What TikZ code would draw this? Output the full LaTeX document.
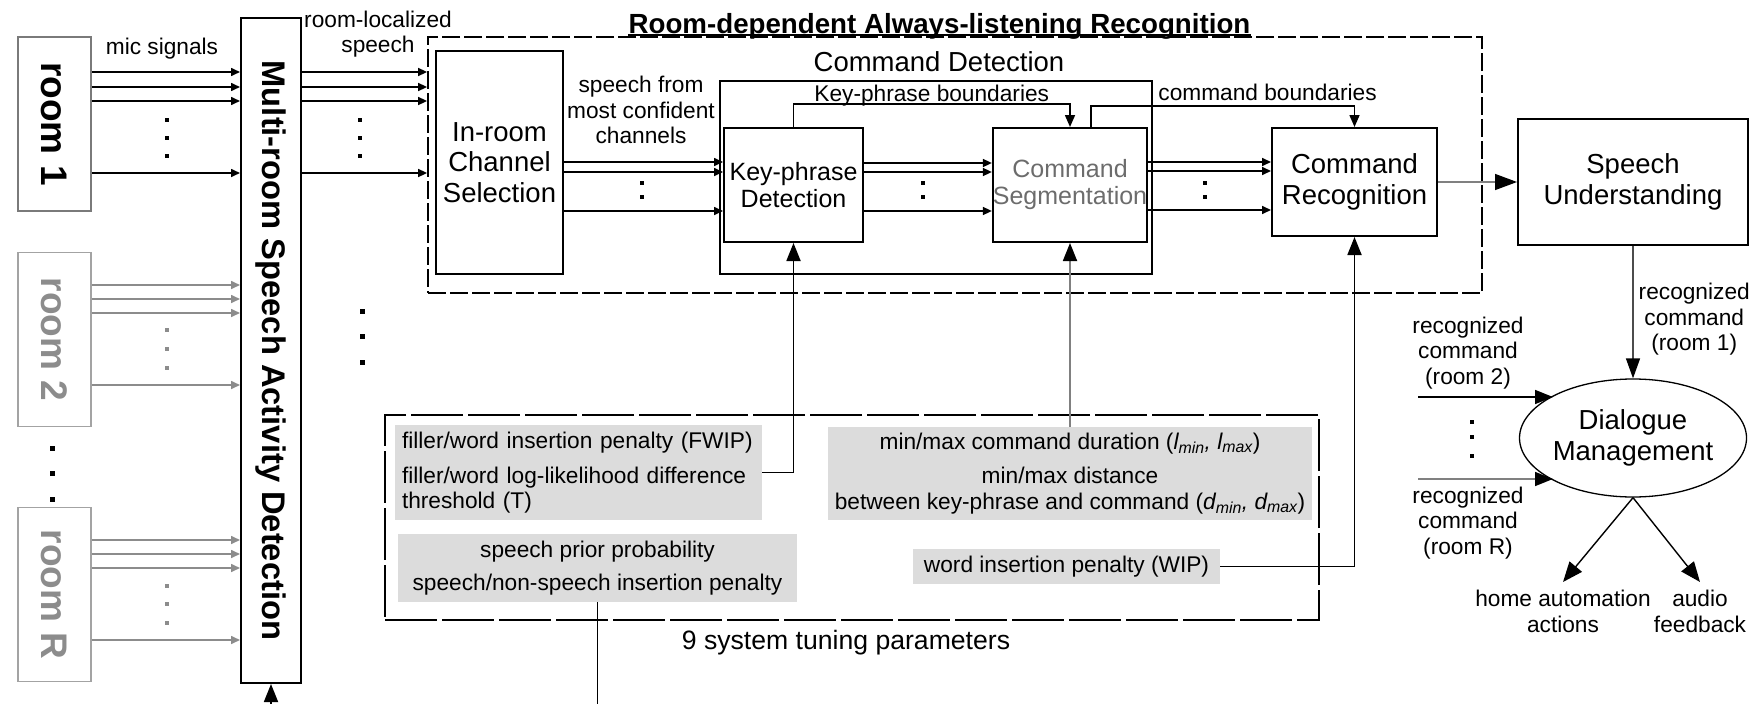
\documentclass[tikz,border=0pt]{standalone}
\usepackage{fontspec}
\setmainfont{Liberation Sans}
\usepackage{graphicx}
\usetikzlibrary{arrows.meta, positioning, shapes.geometric}
\definecolor{roomgray}{HTML}{8C8C8C}
\definecolor{roomline}{HTML}{7A7A7A}
\definecolor{parfill}{HTML}{DCDCDC}
\definecolor{linegray}{HTML}{808080}
\newcommand{\lblfont}{\fontsize{22.7}{25.5}\selectfont}
\newcommand{\blkfont}{\fontsize{27.5}{30.5}\selectfont}
\newcommand{\subblkfont}{\fontsize{25}{27}\selectfont}

\begin{document}
\begin{tikzpicture}[x=1pt, y=-1pt,
  box/.style={draw, line width=2pt, inner sep=0pt, align=center, font=\blkfont},
  roombox/.style={draw=roomline, line width=1.8pt, minimum width=73pt, minimum height=174pt, inner sep=0pt, font=\fontsize{37}{40}\selectfont\bfseries},
  lbl/.style={font=\lblfont, align=center, inner sep=2pt},
  parbox/.style={fill=parfill, inner sep=0pt, align=center, font=\lblfont},
  sig/.style={-{Triangle[length=9pt,width=8pt]}, line width=1.6pt},
  bnd/.style={-{Triangle[length=12pt,width=10pt]}, line width=1.6pt},
  feed/.style={-{Triangle[length=18pt,width=14pt,color=black]}, line width=1.8pt},
  dashbox/.style={draw, line width=1.8pt, dash pattern=on 18pt off 4pt},
]
\useasboundingbox (0,0) rectangle (1756,704);
\clip (0,0) rectangle (1756,704);

% rooms and multi-room SAD
\node[roombox] (room1) at (54.5,124) {\rotatebox{-90}{room 1}};
\node[roombox, draw=roomgray!80, text=roomgray] (room2) at (54.5,339.5) {\rotatebox{-90}{room 2}};
\node[roombox, draw=roomgray!80, text=roomgray] (roomR) at (54.5,594.5) {\rotatebox{-90}{room R}};
\node[box, minimum width=60pt, minimum height=665pt, font=\fontsize{32.7}{35}\selectfont\bfseries] (msad) at (271,350.5) {\rotatebox{-90}{Multi-room Speech Activity Detection}};

\foreach \y in {72,87,101,173} \draw[sig] (room1.east |- 0,\y) -- (msad.west |- 0,\y);
\foreach \y in {285,299,313,385} \draw[sig, roomgray] (room2.east |- 0,\y) -- (msad.west |- 0,\y);
\foreach \y in {540,554,568,640} \draw[sig, roomgray] (roomR.east |- 0,\y) -- (msad.west |- 0,\y);
\node[lbl] (micLbl) at (162,49) {mic signals};

\foreach \y in {120,138,156} {
  \fill (165,\y-2) rectangle ++(4,4);
  \fill (358,\y-2) rectangle ++(4,4);
}
\foreach \y in {330,349,368,586,604,623} \fill[roomgray] (165,\y-2) rectangle ++(4,4);
\foreach \y in {448,473,499} \fill (49.5,\y-2.5) rectangle ++(5,5);
\foreach \y in {311,336,362} \fill (359.5,\y-2.5) rectangle ++(5,5);

% room-dependent recognition
\node[dashbox, minimum width=1054pt, minimum height=256pt] (rdar) at (955,165) {};
\node[anchor=base, inner xsep=0pt, font=\fontsize{27.7}{30}\selectfont\bfseries] (title) at (939.5,33) {Room-dependent Always-listening Recognition};
\draw[line width=1.5pt] ([yshift=-2pt]title.base west) -- ([yshift=-2pt]title.base east);
\node[lbl] (locLbl) at (378,34) {room-localized\\speech};
\foreach \y in {72,87,101,173} \draw[sig] (msad.east |- 0,\y) -- (rdar.west |- 0,\y);

\node[box, minimum width=127pt, minimum height=223pt] (inroom) at (499.5,162.5) {In-room\\Channel\\Selection};
\node[box, minimum width=432pt, minimum height=193pt] (cmddet) at (936,177.5) {};
\node[font=\blkfont] (cmddetLbl) at (939,62) {Command Detection};
\node[box, minimum width=139pt, minimum height=114pt, font=\subblkfont] (kpd) at (793.5,185) {Key-phrase\\Detection};
\node[box, minimum width=154pt, minimum height=114pt, font=\subblkfont, text=gray!85!black] (cseg) at (1070,185) {Command\\Segmentation};
\node[box, minimum width=165pt, minimum height=108pt] (cr) at (1354.5,182) {Command\\Recognition};

\node[lbl] (chLbl) at (641,110) {speech from\\most confident\\channels};
\foreach \y in {162,172,211} \draw[sig] (inroom.east |- 0,\y) -- (kpd.west |- 0,\y);
\foreach \y in {163,172,211} \draw[sig] (kpd.east |- 0,\y) -- (cseg.west |- 0,\y);
\foreach \y in {162,171,210} \draw[sig] (cseg.east |- 0,\y) -- (cr.west |- 0,\y);
\foreach \x in {642,923,1205} \foreach \y in {183,197} \fill (\x-2,\y-2) rectangle ++(4,4);

\draw[bnd] (kpd.north) -- ++(0,-23) -| node[pos=0.25, above=-5pt, lbl] (kpbLbl) {Key-phrase boundaries} (cseg.north);
\draw[bnd] ([xshift=21pt]cseg.north) -- ++(0,-21) -| node[pos=0.335, above=2pt, lbl] (cbLbl) {command boundaries} (cr.north);

% understanding and dialogue
\node[box, minimum width=230pt, minimum height=126pt] (su) at (1633,182) {Speech\\Understanding};
\node[ellipse, draw, line width=1.3pt, minimum width=214pt, minimum height=118pt, inner sep=0pt, align=center, font=\blkfont] (dm) at (1633,438) {Dialogue\\Management};
\draw[line width=1.4pt, linegray, -{Triangle[length=22pt,width=16pt,color=black]}] (cr) -- (su);
\draw[line width=1.4pt, black!70, -{Triangle[length=20pt,width=14pt,color=black]}] (su) -- node[pos=0.556, right=3pt, lbl, text=black] (r1Lbl) {recognized\\command\\(room 1)} (dm);

\coordinate (in2) at (1418,397);
\coordinate (inR) at (1418,479);
\draw[line width=1.6pt, -{Triangle[length=18pt,width=14pt]}] (in2) -- (in2 -| dm.152);
\draw[line width=1.6pt, linegray, -{Triangle[length=18pt,width=14pt,color=black]}] (inR) -- (inR -| dm.208);
\node[lbl] (r2Lbl) at (1468,353) {recognized\\command\\(room 2)};
\node[lbl] (rRLbl) at (1468,523) {recognized\\command\\(room R)};
\foreach \y in {422,437,456} \fill (1470,\y-2) rectangle ++(4,4);

\node[lbl, anchor=north, inner sep=8pt] (ha) at (1563,582) {home automation\\actions};
\node[lbl, anchor=north, inner sep=8pt] (af) at (1700,582) {audio\\feedback};
\draw[line width=1.4pt, -{Triangle[length=20pt,width=16pt]}] (dm.south) -- (ha.north);
\draw[line width=1.4pt, -{Triangle[length=20pt,width=16pt]}] (dm.south) -- (af.north);

% tuning parameters
\node[dashbox, dash pattern=on 52pt off 5pt, minimum width=934pt, minimum height=205pt] (params) at (852,517.5) {};
\node[font=\fontsize{26.6}{29}\selectfont] (parLbl) at (846,643) {9 system tuning parameters};
\node[parbox, text width=353pt, inner xsep=7pt, minimum height=95pt, align=left] (fwip) at (578.5,472.5) {filler/word insertion penalty (FWIP)\\[9.5pt]filler/word log-likelihood difference\\threshold (T)};
\node[parbox, minimum width=399pt, minimum height=68pt] (sp) at (597.5,568) {speech prior probability\\[7.5pt]speech/non-speech insertion penalty};
\node[parbox, minimum width=484pt, minimum height=93pt] (mm) at (1070,473.5) {min/max command duration ({\itshape l\textsubscript{min}, l\textsubscript{max}})\\[8.5pt]min/max distance\\between key-phrase and command ({\itshape d\textsubscript{min}, d\textsubscript{max}})};
\node[parbox, minimum width=307pt, minimum height=35pt] (wip) at (1066.5,566.5) {word insertion penalty (WIP)};

\draw[feed] (fwip.east) -| (kpd.south);
\draw[feed, linegray] (mm.north) -- (cseg.south);
\draw[feed] (wip.east) -| (cr.south);
\draw[feed] (sp.south) -- ++(0,130) -| (msad.south);
\end{tikzpicture}
\end{document}
